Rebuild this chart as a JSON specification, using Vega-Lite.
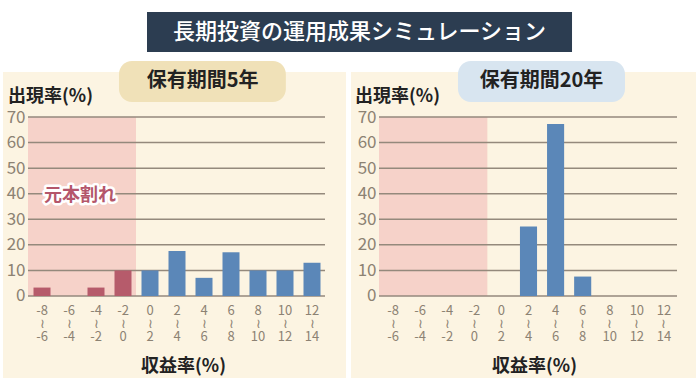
{
  "$schema": "https://vega.github.io/schema/vega-lite/v6.json",
  "background": "white",
  "padding": {"left": 3, "top": 12, "right": 2, "bottom": 2},
  "config": {
    "view": {"stroke": null},
    "font": "Noto Sans CJK JP",
    "text": {"font": "Noto Sans CJK JP"}
  },
  "datasets": {
    "p5": [
      {"lo": -8, "hi": -6, "pct": 3.3},
      {"lo": -6, "hi": -4, "pct": 0},
      {"lo": -4, "hi": -2, "pct": 3.3},
      {"lo": -2, "hi": 0, "pct": 10},
      {"lo": 0, "hi": 2, "pct": 10},
      {"lo": 2, "hi": 4, "pct": 17.6},
      {"lo": 4, "hi": 6, "pct": 7.1},
      {"lo": 6, "hi": 8, "pct": 17.1},
      {"lo": 8, "hi": 10, "pct": 10},
      {"lo": 10, "hi": 12, "pct": 10},
      {"lo": 12, "hi": 14, "pct": 13}
    ],
    "p20": [
      {"lo": -8, "hi": -6, "pct": 0},
      {"lo": -6, "hi": -4, "pct": 0},
      {"lo": -4, "hi": -2, "pct": 0},
      {"lo": -2, "hi": 0, "pct": 0},
      {"lo": 0, "hi": 2, "pct": 0},
      {"lo": 2, "hi": 4, "pct": 27.2},
      {"lo": 4, "hi": 6, "pct": 67.3},
      {"lo": 6, "hi": 8, "pct": 7.6},
      {"lo": 8, "hi": 10, "pct": 0},
      {"lo": 10, "hi": 12, "pct": 0},
      {"lo": 12, "hi": 14, "pct": 0}
    ],
    "grid": [{"g": 0}, {"g": 10}, {"g": 20}, {"g": 30}, {"g": 40}, {"g": 50}, {"g": 60}, {"g": 70}],
    "head": [{"t": "長期投資の運用成果シミュレーション"}],
    "loss": [{"t": "元本割れ"}],
    "pill5": [{"t": "保有期間5年"}],
    "pill20": [{"t": "保有期間20年"}]
  },
  "vconcat": [
    {
      "width": 693,
      "height": 40,
      "view": {"stroke": null},
      "data": {"name": "head"},
      "layer": [
        {
          "mark": {"type": "rect", "color": "#2c3d51"},
          "encoding": {
            "x": {"datum": 0.2078, "type": "quantitative", "scale": {"domain": [0, 1], "nice": false, "zero": false}, "axis": null},
            "x2": {"datum": 0.8211}
          }
        },
        {
          "mark": {"type": "text", "color": "white", "fontSize": 22, "fontWeight": 500, "letterSpacing": 0.6, "align": "center", "baseline": "middle"},
          "encoding": {
            "text": {"field": "t"},
            "x": {"datum": 0.5144, "type": "quantitative"}
          }
        }
      ]
    },
    {
      "hconcat": [
        {
          "width": 343,
          "height": 306,
          "view": {"fill": "#fcf4e2", "stroke": null},
          "title": {"text": "出現率(%)", "anchor": "start", "frame": "group", "offset": -59, "dx": 5, "fontSize": 18, "fontWeight": "bold", "color": "#222222", "font": "Noto Sans CJK JP", "baseline": "alphabetic"},
          "layer": [
            {
              "data": {"values": [{}]},
              "mark": {"type": "rect", "color": "#f6d2c9"},
              "encoding": {
                "x": {"datum": -8, "type": "quantitative", "title": null},
                "x2": {"datum": 0},
                "y": {"datum": 0, "type": "quantitative", "title": null},
                "y2": {"datum": 70}
              }
            },
            {
              "data": {"name": "grid"},
              "mark": {"type": "rule", "color": "#94897c", "strokeWidth": 1.5},
              "encoding": {
                "y": {"field": "g", "type": "quantitative", "title": null},
                "x": {"datum": -8, "type": "quantitative", "title": null},
                "x2": {"datum": 14}
              }
            },
            {
              "data": {"name": "p5"},
              "mark": {"type": "bar", "binSpacing": 10},
              "encoding": {
                "x": {
                  "field": "lo", "type": "quantitative", "bin": {"binned": true, "step": 2}, "title": "収益率(%)",
                  "scale": {"domain": [-8, 14], "range": [25, 322], "nice": false, "zero": false},
                  "axis": {"values": [-7, -5, -3, -1, 1, 3, 5, 7, 9, 11, 13], "labelExpr": "[toString(datum.value-1), '≀', toString(datum.value+1)]", "offset": -76, "domain": false, "ticks": false, "grid": false, "labelPadding": 2, "labelBaseline": "top", "labelFontSize": 13, "labelLineHeight": 13, "labelColor": "#8c8273", "labelFont": "Noto Sans CJK JP", "labelFlush": false, "labelOverlap": false, "titleFontSize": 18, "titleFont": "Noto Sans CJK JP", "titleFontWeight": "bold", "titleColor": "#222222", "titleY": 64, "titleX": 180, "titleBaseline": "middle"}
                },
                "x2": {"field": "hi"},
                "y": {
                  "field": "pct", "type": "quantitative", "title": null,
                  "scale": {"domain": [-32.07, 87.6], "nice": false, "zero": false},
                  "axis": {"values": [0, 10, 20, 30, 40, 50, 60, 70], "offset": -25, "domain": false, "ticks": false, "grid": false, "labelPadding": 3, "labelFontSize": 17, "labelColor": "#8c8273", "labelFont": "Noto Sans CJK JP"}
                },
                "color": {"condition": {"test": "datum.lo < 0", "value": "#b65b6b"}, "value": "#5b87b8"}
              }
            },
            {
              "data": {"name": "loss"},
              "mark": {"type": "text", "fontSize": 18, "fontWeight": "bold", "stroke": "white", "strokeWidth": 5, "strokeJoin": "round", "color": "white", "align": "center", "baseline": "middle"},
              "encoding": {"text": {"field": "t"}, "x": {"datum": -4.15, "type": "quantitative", "title": null}, "y": {"datum": 39, "type": "quantitative", "title": null}}
            },
            {
              "data": {"name": "loss"},
              "mark": {"type": "text", "fontSize": 18, "fontWeight": "bold", "color": "#b4566b", "align": "center", "baseline": "middle"},
              "encoding": {"text": {"field": "t"}, "x": {"datum": -4.15, "type": "quantitative", "title": null}, "y": {"datum": 39, "type": "quantitative", "title": null}}
            },
            {
              "data": {"values": [{}]},
              "mark": {"type": "rect", "color": "#f0e1b8", "cornerRadius": 13},
              "encoding": {
                "x": {"datum": -1.26, "type": "quantitative", "title": null},
                "x2": {"datum": 11.1},
                "y": {"datum": 75.9, "type": "quantitative", "title": null},
                "y2": {"datum": 91.9}
              }
            },
            {
              "data": {"name": "pill5"},
              "mark": {"type": "text", "fontSize": 20, "fontWeight": "bold", "color": "#222222", "align": "center", "baseline": "middle"},
              "encoding": {"text": {"field": "t"}, "x": {"datum": 4.93, "type": "quantitative", "title": null}, "y": {"datum": 84.1, "type": "quantitative", "title": null}}
            }
          ]
        },
        {
          "width": 345,
          "height": 306,
          "view": {"fill": "#fcf4e2", "stroke": null},
          "title": {"text": "出現率(%)", "anchor": "start", "frame": "group", "offset": -59, "dx": 4, "fontSize": 18, "fontWeight": "bold", "color": "#222222", "font": "Noto Sans CJK JP", "baseline": "alphabetic"},
          "layer": [
            {
              "data": {"values": [{}]},
              "mark": {"type": "rect", "color": "#f6d2c9"},
              "encoding": {
                "x": {"datum": -8, "type": "quantitative", "title": null},
                "x2": {"datum": 0},
                "y": {"datum": 0, "type": "quantitative", "title": null},
                "y2": {"datum": 70}
              }
            },
            {
              "data": {"name": "grid"},
              "mark": {"type": "rule", "color": "#94897c", "strokeWidth": 1.5},
              "encoding": {
                "y": {"field": "g", "type": "quantitative", "title": null},
                "x": {"datum": -8, "type": "quantitative", "title": null},
                "x2": {"datum": 14}
              }
            },
            {
              "data": {"name": "p20"},
              "mark": {"type": "bar", "binSpacing": 10},
              "encoding": {
                "x": {
                  "field": "lo", "type": "quantitative", "bin": {"binned": true, "step": 2}, "title": "収益率(%)",
                  "scale": {"domain": [-8, 14], "range": [28, 326], "nice": false, "zero": false},
                  "axis": {"values": [-7, -5, -3, -1, 1, 3, 5, 7, 9, 11, 13], "labelExpr": "[toString(datum.value-1), '≀', toString(datum.value+1)]", "offset": -76, "domain": false, "ticks": false, "grid": false, "labelPadding": 2, "labelBaseline": "top", "labelFontSize": 13, "labelLineHeight": 13, "labelColor": "#8c8273", "labelFont": "Noto Sans CJK JP", "labelFlush": false, "labelOverlap": false, "titleFontSize": 18, "titleFont": "Noto Sans CJK JP", "titleFontWeight": "bold", "titleColor": "#222222", "titleY": 64, "titleX": 183, "titleBaseline": "middle"}
                },
                "x2": {"field": "hi"},
                "y": {
                  "field": "pct", "type": "quantitative", "title": null,
                  "scale": {"domain": [-32.07, 87.6], "nice": false, "zero": false},
                  "axis": {"values": [0, 10, 20, 30, 40, 50, 60, 70], "offset": -28, "domain": false, "ticks": false, "grid": false, "labelPadding": 3, "labelFontSize": 17, "labelColor": "#8c8273", "labelFont": "Noto Sans CJK JP"}
                },
                "color": {"condition": {"test": "datum.lo < 0", "value": "#b65b6b"}, "value": "#5b87b8"}
              }
            },
            {
              "data": {"values": [{}]},
              "mark": {"type": "rect", "color": "#d8e5f0", "cornerRadius": 13},
              "encoding": {
                "x": {"datum": -2.17, "type": "quantitative", "title": null},
                "x2": {"datum": 10.16},
                "y": {"datum": 75.9, "type": "quantitative", "title": null},
                "y2": {"datum": 91.9}
              }
            },
            {
              "data": {"name": "pill20"},
              "mark": {"type": "text", "fontSize": 20, "fontWeight": "bold", "color": "#222222", "align": "center", "baseline": "middle"},
              "encoding": {"text": {"field": "t"}, "x": {"datum": 4.0, "type": "quantitative", "title": null}, "y": {"datum": 84.1, "type": "quantitative", "title": null}}
            }
          ]
        }
      ],
      "spacing": 5
    }
  ],
  "spacing": 9
}
